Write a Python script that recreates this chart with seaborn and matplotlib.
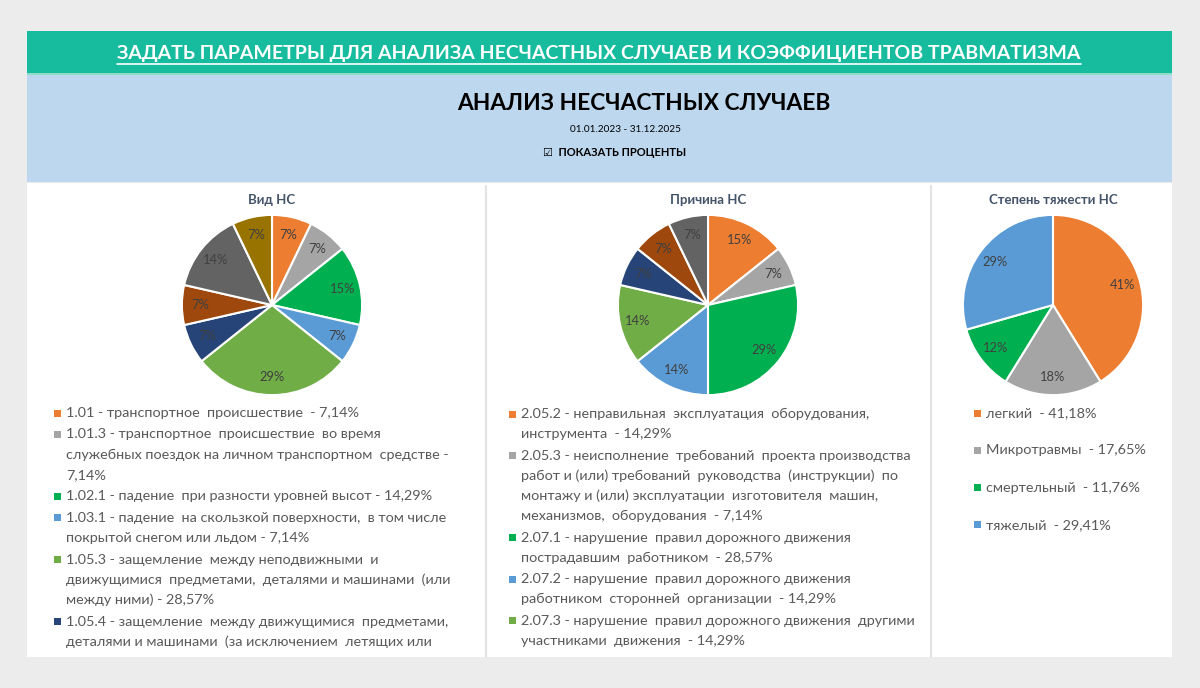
import seaborn as sns
import matplotlib.pyplot as plt
from matplotlib.patches import Rectangle
from matplotlib.lines import Line2D

# ---- data ----
vid_values = [1, 1, 2, 1, 4, 1, 1, 2, 1]
vid_pct_labels = ['7%', '7%', '15%', '7%', '29%', '7%', '7%', '14%', '7%']
vid_legend = [
    '1.01 - транспортное  происшествие  - 7,14%',
    '1.01.3 - транспортное  происшествие  во время\nслужебных поездок на личном транспортном  средстве -\n7,14%',
    '1.02.1 - падение  при разности уровней высот - 14,29%',
    '1.03.1 - падение  на скользкой поверхности,  в том числе\nпокрытой снегом или льдом - 7,14%',
    '1.05.3 - защемление  между неподвижными  и\nдвижущимися  предметами,  деталями и машинами  (или\nмежду ними) - 28,57%',
    '1.05.4 - защемление  между движущимися  предметами,\nдеталями и машинами  (за исключением  летящих или',
]

prichina_values = [2, 1, 4, 2, 2, 1, 1, 1]
prichina_pct_labels = ['15%', '7%', '29%', '14%', '14%', '7%', '7%', '7%']
prichina_legend = [
    '2.05.2 - неправильная  эксплуатация  оборудования,\nинструмента  - 14,29%',
    '2.05.3 - неисполнение  требований  проекта производства\nработ и (или) требований  руководства  (инструкции)  по\nмонтажу и (или) эксплуатации  изготовителя  машин,\nмеханизмов,  оборудования  - 7,14%',
    '2.07.1 - нарушение  правил дорожного движения\nпострадавшим  работником  - 28,57%',
    '2.07.2 - нарушение  правил дорожного движения\nработником  сторонней  организации  - 14,29%',
    '2.07.3 - нарушение  правил дорожного движения  другими\nучастниками  движения  - 14,29%',
]

tyazh_values = [7, 3, 2, 5]
tyazh_pct_labels = ['41%', '18%', '12%', '29%']
tyazh_legend = ['легкий  - 41,18%', 'Микротравмы  - 17,65%', 'смертельный  - 11,76%', 'тяжелый  - 29,41%']

office = sns.color_palette(['#ED7D31', '#A5A5A5', '#00B050', '#5B9BD5', '#70AD47',
                            '#264478', '#9E480E', '#636363', '#997300'])

sns.set_theme(style='white')
plt.rcParams['font.family'] = ['Lato', 'DejaVu Sans']

W, H = 1200, 688
fig = plt.figure(figsize=(12, 6.88), dpi=100)
fig.patch.set_facecolor('#ececec')


def fx(x):
    return x / W


def fy(y):
    return 1 - y / H


def box(x0, y0, x1, y1, color):
    fig.add_artist(Rectangle((fx(x0), fy(y1)), fx(x1 - x0), (y1 - y0) / H,
                             transform=fig.transFigure, facecolor=color, edgecolor='none', zorder=-10))


# header bands and panels
box(27, 31, 1172, 73, '#17bc9f')
box(27, 73, 1172, 75, '#8fdcc7')
box(27, 75, 1172, 182, '#bdd7ee')
box(27, 183, 1172, 657, 'white')
for xs in (486, 931):
    fig.add_artist(Line2D([fx(xs), fx(xs)], [fy(186), fy(657)], transform=fig.transFigure,
                          color='#e3e3e3', lw=1.5, zorder=-5))

head = fig.text(fx(599), fy(53), 'ЗАДАТЬ ПАРАМЕТРЫ ДЛЯ АНАЛИЗА НЕСЧАСТНЫХ СЛУЧАЕВ И КОЭФФИЦИЕНТОВ ТРАВМАТИЗМА',
                ha='center', va='center', color='white', fontsize=14.0, fontweight='bold')
fig.text(fx(644), fy(103), 'АНАЛИЗ НЕСЧАСТНЫХ СЛУЧАЕВ', ha='center', va='center',
         color='black', fontsize=16.4, fontweight='bold')
fig.text(fx(626), fy(130), '01.01.2023 - 31.12.2025', ha='center', va='center', color='black', fontsize=7.2)
fig.text(fx(615), fy(153), '☑  ПОКАЗАТЬ ПРОЦЕНТЫ', ha='center', va='center', color='black',
         fontsize=8, fontweight='bold')

# underline for header
fig.canvas.draw()
bb = head.get_window_extent(renderer=fig.canvas.get_renderer())
fig.add_artist(Line2D([bb.x0 / W, bb.x1 / W], [fy(64), fy(64)], transform=fig.transFigure,
                      color='white', lw=1.2))


def draw_pie(cx, cy, r, values, labels, title):
    ax = fig.add_axes([fx(cx - r), fy(cy + r), 2 * r / W, 2 * r / H])
    ax.pie(values, colors=office[:len(values)], startangle=90, counterclock=False,
           labels=labels, labeldistance=0.8,
           wedgeprops=dict(edgecolor='white', linewidth=1.5),
           textprops=dict(color='#404040', fontsize=9.3, ha='center', va='center'))
    ax.set_xlim(-1.01, 1.01)
    ax.set_ylim(-1.01, 1.01)
    ax.set_aspect('equal')
    ax.axis('off')
    fig.text(fx(cx), fy(200), title, ha='center', va='center', color='#44546a',
             fontsize=9.5, fontweight='bold')


def draw_legend(x, y0, items, step, gap):
    y = y0
    for i, txt in enumerate(items):
        fig.add_artist(Rectangle((fx(x - 12), fy(y + 3.5)), 7 / W, 7 / H, transform=fig.transFigure,
                                 facecolor=office[i], edgecolor='none'))
        for line in txt.split('\n'):
            fig.text(fx(x), fy(y), line, ha='left', va='center', color='#595959', fontsize=10.4)
            y += step
        y += gap


draw_pie(272, 305, 91, vid_values, vid_pct_labels, 'Вид НС')
draw_pie(708, 305, 91, prichina_values, prichina_pct_labels, 'Причина НС')
draw_pie(1053, 305, 91, tyazh_values, tyazh_pct_labels, 'Степень тяжести НС')

draw_legend(66, 413, vid_legend, 20.2, 1.3)
draw_legend(521, 414, prichina_legend, 20.2, 1.2)
draw_legend(986, 413, tyazh_legend, 37.3, 0)

fig.savefig('out.png', dpi=100, facecolor=fig.get_facecolor())
